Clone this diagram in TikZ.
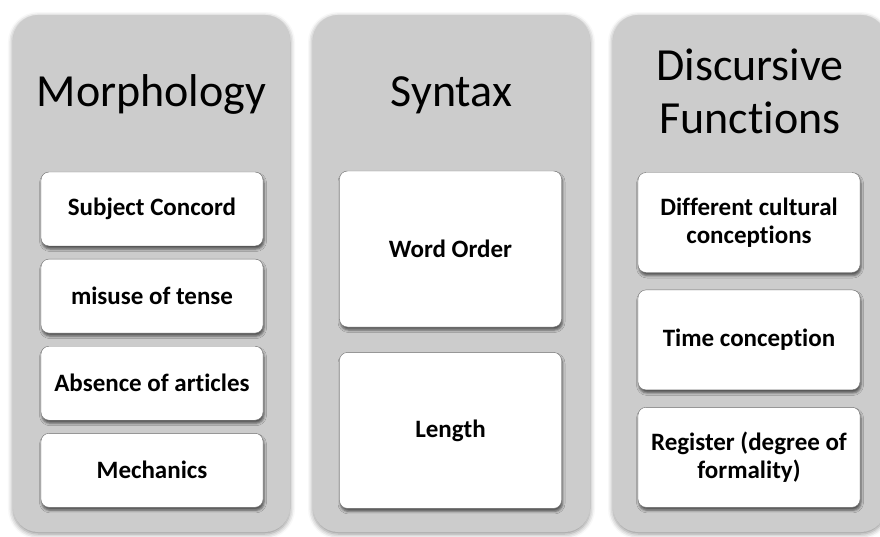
\documentclass[tikz,border=0pt]{standalone}
\usepackage{fontspec}
\setmainfont{Carlito}[Ligatures=NoCommon]
\usepackage{xcolor}
\usetikzlibrary{positioning,shadows.blur}
\definecolor{colgray}{RGB}{204,204,204}
\definecolor{boxline}{RGB}{110,110,110}
\tikzset{
	column/.style={fill=colgray, rounded corners=25pt, inner sep=0pt,
		minimum width=277pt, minimum height=517pt,
		blur shadow={shadow xshift=0pt, shadow yshift=-2pt,
			shadow blur radius=5pt, shadow opacity=45}},
	heading/.style={font=\fontsize{46}{53}\selectfont, align=center, inner sep=0pt},
	item/.style={draw=boxline, fill=white, rounded corners=8pt, inner sep=0pt,
		minimum width=222pt, align=center,
		font=\fontsize{25}{28}\selectfont\bfseries,
		blur shadow={shadow xshift=1pt, shadow yshift=-3pt,
			shadow blur radius=2.5pt, shadow opacity=60}},
	item small/.style={item, minimum height=74pt},
	item tall/.style={item, minimum height=156pt},
	item mid/.style={item, minimum height=100pt}
}

\begin{document}
\begin{tikzpicture}[x=1pt, y=-1pt]
	\useasboundingbox (0,0) rectangle (880,537);
	% the three columns
	\node[column] (morph) at (151.5,273.5) {};
	\node[column] (synt) at (451.5,273.5) {};
	\node[column, minimum width=273pt] (disc) at (749.5,273.5) {};
	% headings
	\node[heading, anchor=base] (morphT) at (151.5,107) {Morphology};
	\node[heading, anchor=base] (syntT) at (451.5,107) {Syntax};
	\node[heading] (discT) at (750,91) {Discursive\\Functions};
	% morphology
	\node[item small] (m1) at (152,209) {Subject Concord};
	\node[item small, below=12.7pt of m1] (m2) {misuse of tense};
	\node[item small, below=12.7pt of m2] (m3) {Absence of articles};
	\node[item small, below=12.7pt of m3] (m4) {Mechanics};
	% syntax
	\node[item tall] (s1) at (450.5,249) {Word Order};
	\node[item tall, below=25pt of s1] (s2) {Length};
	% discursive functions
	\node[item mid] (d1) at (749,222.5) {Different cultural\\conceptions};
	\node[item mid, below=17pt of d1] (d2) {Time conception};
	\node[item mid, below=17pt of d2] (d3) {Register (degree of\\formality)};
\end{tikzpicture}
\end{document}
